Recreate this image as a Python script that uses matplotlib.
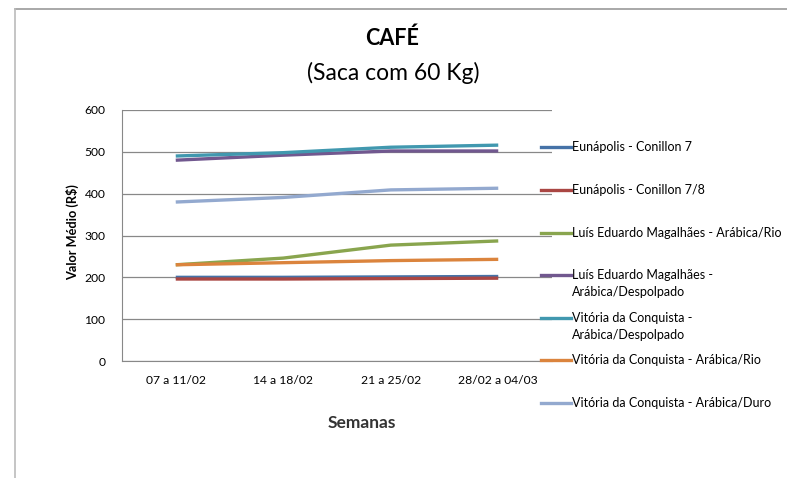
import matplotlib.pyplot as plt
from matplotlib.lines import Line2D

plt.rcParams['font.family'] = ['Lato', 'DejaVu Sans']

semanas = ['07 a 11/02', '14 a 18/02', '21 a 25/02', '28/02 a 04/03']

eunapolis_7 = [200, 200, 201, 202]
eunapolis_78 = [196, 196, 197, 198]
lem_rio = [230, 246, 277, 287]
lem_despolpado = [480, 492, 502, 502]
vdc_despolpado = [490, 498, 511, 516]
vdc_rio = [230, 235, 240, 243]
vdc_duro = [380, 391, 409, 413]

nomes = ['Eunápolis - Conillon 7',
         'Eunápolis - Conillon 7/8',
         'Luís Eduardo Magalhães - Arábica/Rio',
         'Luís Eduardo Magalhães -\nArábica/Despolpado',
         'Vitória da Conquista -\nArábica/Despolpado',
         'Vitória da Conquista - Arábica/Rio',
         'Vitória da Conquista - Arábica/Duro']
series = [eunapolis_7, eunapolis_78, lem_rio, lem_despolpado,
          vdc_despolpado, vdc_rio, vdc_duro]
cores = ['#4572A7', '#AA4643', '#89A54E', '#71588F',
         '#4198AF', '#DB843D', '#93A9CF']

W, H = 787, 478
fig = plt.figure(figsize=(W / 100, H / 100), dpi=100)
ax = fig.add_axes([122 / W, 1 - 361 / H, (552 - 122) / W, (361 - 110) / H])

x = list(range(len(semanas)))
for vals, c in zip(series, cores):
    ax.plot(x, vals, color=c, lw=2.4, solid_capstyle='butt')

ax.set_xlim(-0.5, len(semanas) - 0.5)
ax.set_ylim(0, 600)
ax.set_yticks(range(0, 601, 100))
ax.set_xticks(x)
ax.set_xticklabels(semanas, fontsize=8.7)
ax.tick_params(axis='y', labelsize=8.7, length=0, pad=12)
ax.tick_params(axis='x', length=0, pad=10)
ax.yaxis.grid(True, color='#888888', lw=0.9)
ax.set_axisbelow(True)
for s in ['top', 'right']:
    ax.spines[s].set_visible(False)
ax.spines['left'].set_color('#888888')
ax.spines['bottom'].set_color('#888888')

# titulo
fig.text(392 / W, 1 - 38 / H, 'CAFÉ', ha='center', va='center',
         fontsize=15.5, fontweight='bold')
fig.text(393 / W, 1 - 73 / H, '(Saca com 60 Kg)', ha='center', va='center',
         fontsize=16.5)
fig.text(362 / W, 1 - 423 / H, 'Semanas', ha='center', va='center',
         fontsize=12.5, fontweight='bold', color='#333333')
fig.text(73 / W, 1 - 232 / H, 'Valor Médio (R$)', ha='center', va='center',
         rotation=90, fontsize=9.2, fontweight='bold')

# legenda
ys = [147, 190, 233, 275, 318, 360, 403]
for nome, c, yy in zip(nomes, cores, ys):
    fig.add_artist(Line2D([541 / W, 571 / W], [1 - yy / H, 1 - yy / H],
                          color=c, lw=2.4, transform=fig.transFigure))
    fig.text(572 / W, 1 - (yy - 6) / H, nome, ha='left', va='top',
             fontsize=9, linespacing=1.5)

# moldura
fig.add_artist(Line2D([15 / W, 1], [1 - 9 / H, 1 - 9 / H], color='#999999',
                      lw=1.2, transform=fig.transFigure))
fig.add_artist(Line2D([15 / W, 15 / W], [1 - 9 / H, 0], color='#bbbbbb',
                      lw=1.2, transform=fig.transFigure))

fig.savefig('out.png', dpi=100)
